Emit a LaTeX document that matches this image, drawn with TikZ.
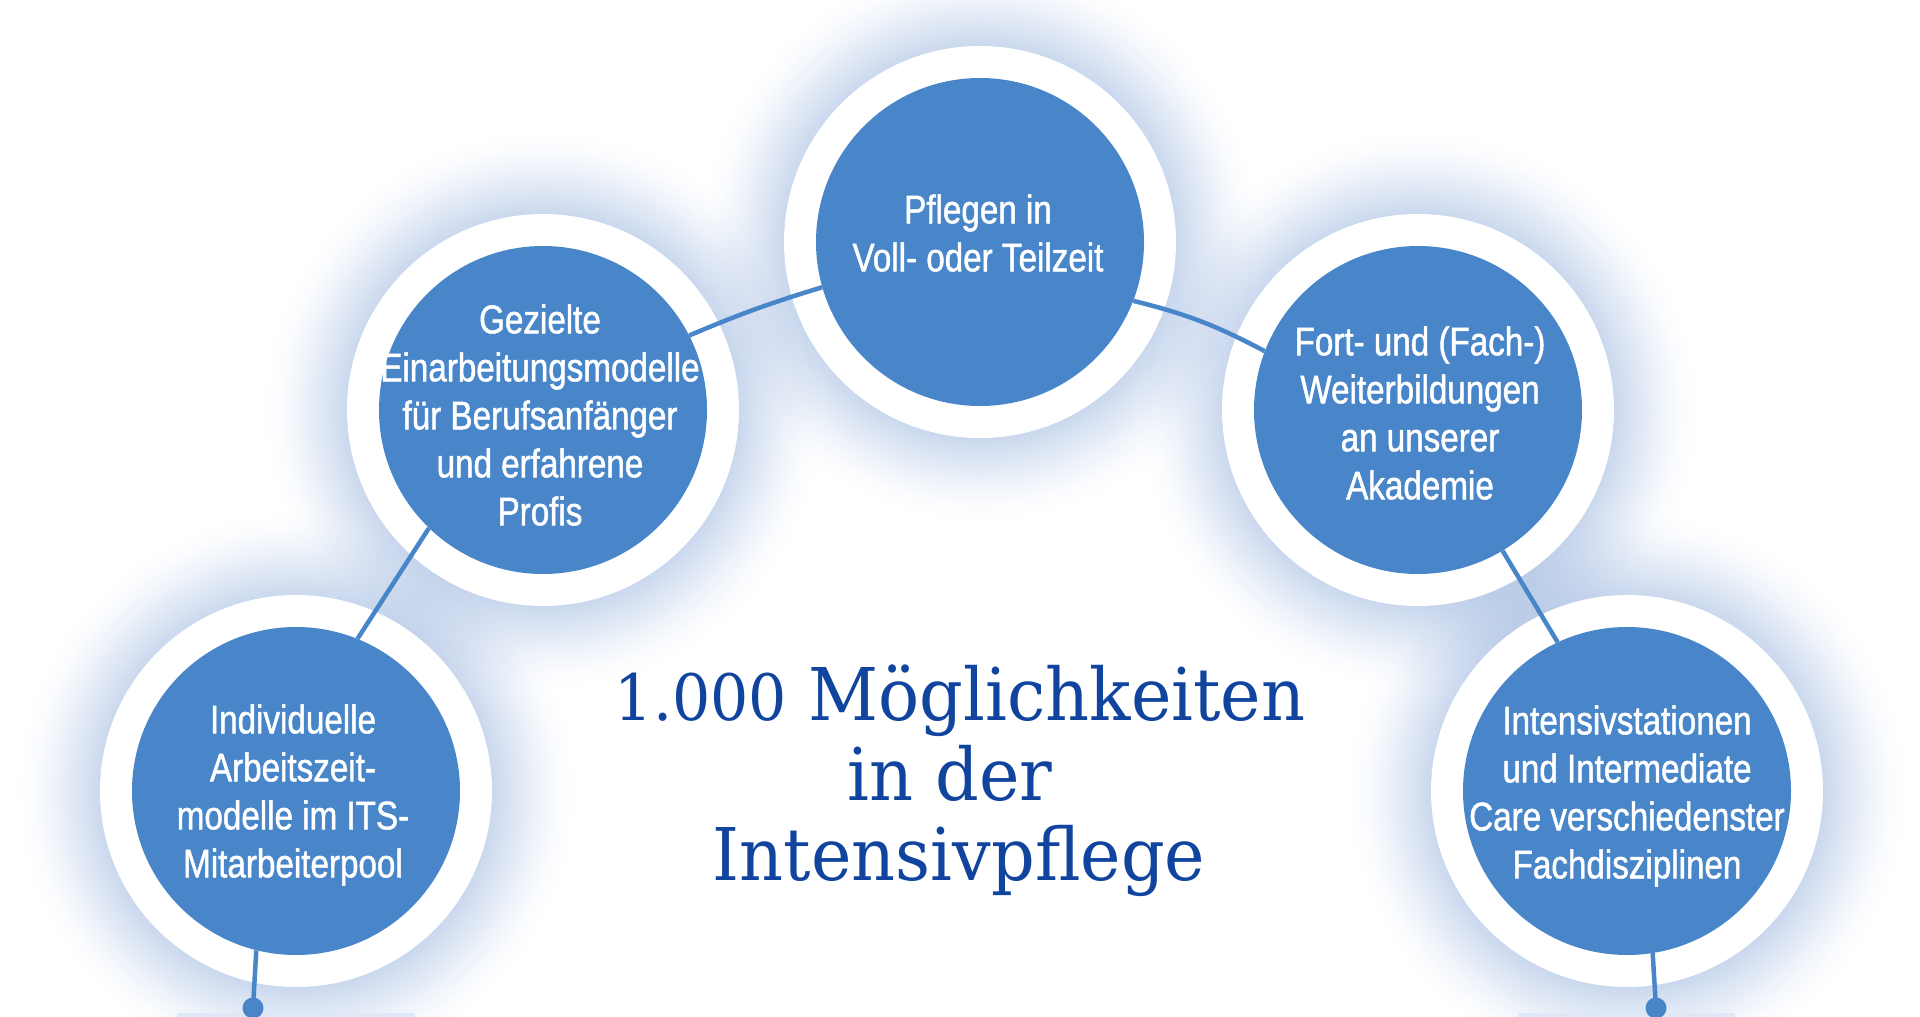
\documentclass[tikz,border=0pt]{standalone}
\usepackage{fontspec}
\usetikzlibrary{backgrounds}
\newfontfamily\nodefont[FakeStretch=0.83,FakeBold=1.2]{Liberation Sans}
\newfontfamily\titlefont[FakeStretch=0.94]{DejaVu Serif}
\definecolor{circblue}{RGB}{72,134,201}
\definecolor{titleblue}{RGB}{16,68,158}
\definecolor{glowblue}{RGB}{202,216,238}
\definecolor{barblue}{RGB}{222,232,246}
\pgfdeclareradialshading{halo}{\pgfpointorigin}{color(0bp)=(glowblue); color(17.5bp)=(glowblue); color(19.2bp)=(glowblue!70!white); color(21.5bp)=(glowblue!32!white); color(23.5bp)=(glowblue!8!white); color(25bp)=(white); color(50bp)=(white)}
\tikzset{
  bubble/.style={circle, fill=circblue, minimum size=328pt, inner sep=0pt},
  bubbletext/.style={text=white, align=center, inner sep=0pt, font=\nodefont\fontsize{40}{48}\selectfont},
  titletext/.style={text=titleblue, anchor=base, inner sep=0pt, font=\titlefont\fontsize{72.7}{80}\selectfont},
  link/.style={draw=circblue, line width=4.5pt},
  dotend/.style={circle, fill=circblue, minimum size=21pt, inner sep=0pt},
  ring/.style={fill=white},
}
\begin{document}
\begin{tikzpicture}[x=1pt,y=-1pt]
\useasboundingbox (0,0) rectangle (1920,1017);

% blue circles
\node[bubble] (c1) at (296,791) {};
\node[bubble] (c2) at (543,410) {};
\node[bubble] (c3) at (980,242) {};
\node[bubble] (c4) at (1418,410) {};
\node[bubble] (c5) at (1627,791) {};

% texts
\node[bubbletext] (t1) at (293,795) {Individuelle\\Arbeitszeit-\\modelle im ITS-\\Mitarbeiterpool};
\node[bubbletext] (t2) at (540,415) {Gezielte\\Einarbeitungsmodelle\\für Berufsanfänger\\und erfahrene\\Profis};
\node[bubbletext] (t3) at (978,233) {Pflegen in\\Voll- oder Teilzeit};
\node[bubbletext] (t4) at (1420,413) {Fort- und (Fach-)\\Weiterbildungen\\an unserer\\Akademie};
\node[bubbletext] (t5) at (1627,796) {Intensivstationen\\und Intermediate\\Care verschiedenster\\Fachdisziplinen};

% end dots
\node[dotend] (d1) at (253,1008) {};
\node[dotend] (d5) at (1656,1008) {};

% connectors
\draw[link] (c2.27.6) to[bend left=3] (c3.196);
\draw[link] (c3.-21.8) to[bend left=7] (c4.159.6);
\draw[link] (c2.226) -- (c1.68.6);
\draw[link] (c4.-59.7) -- (c5.115.5);
\draw[link] (c1.256) -- (d1.center);
\draw[link] (c5.279) -- (d5.center);

% title
\node[titletext] (title1) at (960,720) {{\fontsize{64}{64}\selectfont 1.000} Möglichkeiten};
\node[titletext] (title2) at (950,800) {in der};
\node[titletext] (title3) at (959,880) {Intensivpflege};

\begin{scope}[on background layer]
  \fill[white] (0,0) rectangle (1920,1017);
  \foreach \c in {c1,c2,c3,c4,c5}{
    \shade[shading=halo, blend mode=multiply] (\c.center) circle[radius=280];
  }
  \fill[barblue] (177,1013) rectangle (415,1017);
  \fill[barblue] (1518,1013) rectangle (1735,1017);
  \foreach \c in {c1,c2,c3,c4,c5}{
    \fill[ring] (\c.center) circle[radius=196];
  }
\end{scope}
\end{tikzpicture}
\end{document}
